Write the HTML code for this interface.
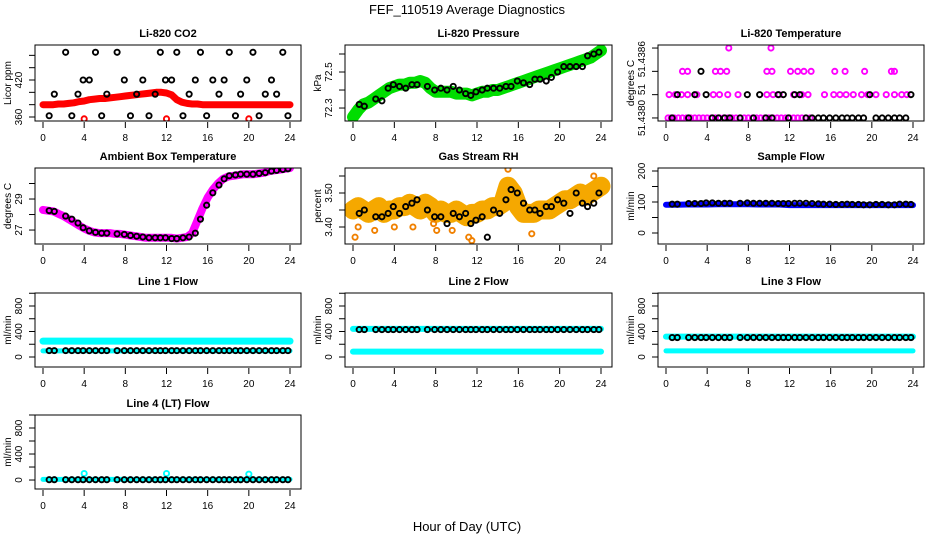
<!DOCTYPE html>
<html><head><meta charset="utf-8">
<style>
html,body{margin:0;padding:0;background:#fff;}
svg text{font-family:"Liberation Sans",sans-serif;}
</style></head>
<body>
<svg id="chart" width="936" height="540" viewBox="0 0 936 540" xmlns="http://www.w3.org/2000/svg">
<text x="467" y="14" text-anchor="middle" font-size="13">FEF_110519  Average Diagnostics</text>
<text x="467" y="531" text-anchor="middle" font-size="13">Hour of Day (UTC)</text>
</svg>
<script>
// ---- data ----
const xTicks = [0,4,8,12,16,20,24];
const blackTimes = [0.6,1.1,2.2,2.8,3.4,3.9,4.5,5.1,5.7,6.2,7.2,7.9,8.5,9.1,9.7,10.3,10.9,11.4,11.9,12.5,13.0,13.6,14.2,14.8,15.3,15.9,16.5,17.1,17.6,18.1,18.7,19.2,19.8,20.4,21.0,21.6,22.2,22.7,23.3,23.8];

const co2Band = [380,380,380,381,381,382,383,385,386,388,389,390,390,391,392,393,394,395,396,397,398,399,400,400,399,396,388,384,382,381,381,380,380,380,380,380,380,380,380,380,380,380,380,380,380,380,380,380,380];
const co2Black = [362,397,465,362,397,420,420,465,362,397,465,420,362,397,420,362,397,465,420,420,465,362,397,420,465,362,420,397,420,465,362,397,420,465,362,397,420,397,465,362];
const co2RedTimes = [4,12,20];
const co2RedVals = [357,357,357];

const pressBand = [72.25,72.29,72.32,72.33,72.35,72.37,72.39,72.41,72.42,72.43,72.43,72.44,72.44,72.45,72.44,72.41,72.39,72.39,72.39,72.39,72.38,72.38,72.38,72.37,72.38,72.39,72.39,72.40,72.40,72.41,72.42,72.43,72.44,72.45,72.46,72.47,72.48,72.49,72.50,72.51,72.52,72.53,72.54,72.55,72.56,72.57,72.58,72.60,72.62];
const pressBlack = [72.32,72.31,72.35,72.34,72.41,72.43,72.42,72.41,72.43,72.43,72.42,72.40,72.41,72.40,72.42,72.40,72.38,72.37,72.39,72.40,72.41,72.41,72.41,72.42,72.42,72.45,72.44,72.43,72.46,72.46,72.45,72.47,72.50,72.53,72.53,72.53,72.53,72.59,72.60,72.61];

const ltLevels = [51.43800,51.43823,51.43846,51.43869];
const ltMagTimes = [0.2,0.5,0.8,1.2,1.6,2.0,2.4,2.8,3.2,3.6,4.0,4.4,4.8,5.2,5.6,6.0,6.4,6.8,7.2,7.6,8.0,8.4,8.8,9.2,9.6,10.0,10.4,10.8,11.2,11.6,12.0,12.4,12.8,13.2,13.6,14.0,0.3,0.9,1.5,2.1,3.0,4.6,5.2,6.0,7.0,9.8,10.4,11.0,12.4,13.2,13.8,15.4,16.3,16.9,17.5,18.2,19.0,19.6,20.4,21.4,22.2,22.9,23.4,1.6,2.1,4.8,5.3,5.9,9.8,10.3,12.1,12.8,13.4,14.1,16.4,17.4,19.3,21.9,22.2,6.1,10.2];
const ltMagVals = [0,0,0,0,0,0,0,0,0,0,0,0,0,0,0,0,0,0,0,0,0,0,0,0,0,0,0,0,0,0,0,0,0,0,0,0,1,1,1,1,1,1,1,1,1,1,1,1,1,1,1,1,1,1,1,1,1,1,1,1,1,1,1,2,2,2,2,2,2,2,2,2,2,2,2,2,2,2,2,3,3];
const ltBlack = [0,1,0,1,2,1,0,0,0,0,0,1,0,1,0,0,1,1,0,1,1,0,0,0,0,0,0,0,0,0,0,0,1,0,0,0,0,0,0,1];

const ambBand = [28.3,28.25,28.2,28.05,27.9,27.7,27.5,27.3,27.1,26.95,26.85,26.8,26.8,26.8,26.75,26.75,26.7,26.65,26.6,26.55,26.5,26.5,26.5,26.5,26.5,26.5,26.45,26.5,26.55,26.8,27.6,28.4,29.1,29.6,30.0,30.3,30.45,30.5,30.55,30.6,30.6,30.6,30.65,30.7,30.8,30.85,30.9,30.95,31.0];
const ambBlack = [28.25,28.2,27.9,27.7,27.45,27.15,26.95,26.85,26.8,26.8,26.75,26.72,26.65,26.6,26.55,26.5,26.5,26.5,26.5,26.45,26.45,26.5,26.55,26.8,27.7,28.6,29.4,29.9,30.3,30.5,30.55,30.6,30.6,30.6,30.65,30.7,30.8,30.85,30.9,30.95];

const rhBand = [3.45,3.46,3.45,3.44,3.45,3.46,3.44,3.45,3.45,3.46,3.46,3.47,3.46,3.45,3.47,3.46,3.44,3.45,3.44,3.44,3.45,3.44,3.43,3.44,3.44,3.45,3.45,3.46,3.46,3.47,3.52,3.50,3.46,3.44,3.44,3.44,3.45,3.45,3.45,3.46,3.47,3.48,3.48,3.49,3.50,3.49,3.50,3.51,3.52];
const rhBlack = [3.44,3.45,3.43,3.43,3.44,3.46,3.44,3.46,3.47,3.48,3.45,3.43,3.43,3.41,3.44,3.43,3.44,3.41,3.42,3.43,3.37,3.45,3.44,3.48,3.51,3.50,3.47,3.45,3.45,3.44,3.46,3.46,3.48,3.47,3.44,3.50,3.47,3.46,3.47,3.50];
const rhStrayTimes = [0.2,0.5,2.1,4.0,5.8,7.8,8.1,9.6,11.2,11.5,15.0,17.3,23.3];
const rhStrayVals = [3.37,3.40,3.39,3.40,3.40,3.41,3.39,3.39,3.37,3.36,3.57,3.38,3.55];

const sampBand = [91,91,92,92,92,93,93,93,93,92,92,92,90,90,90,90,90,90,90,90,90,90,90,90,90];
const sampBlack = [93,93,95,95,95,97,97,96,96,96,96,97,96,96,96,96,95,95,95,96,96,96,95,94,93,93,92,92,93,92,92,91,91,92,92,91,91,93,93,92];

const l1Cyan = [250,250,250,250,250,250,250,250,250,250,250,250,250];
const l1Low = [95,95,95,95,95,95,95,95,95,95,95,95,95];
const l1Black = 100;
const l2Cyan = [440,440,440,440,440,440,440,440,440,440,440,440,440];
const l2Low = [85,85,85,85,85,85,85,85,85,85,85,85,85];
const l2Black = 430;
const l3Cyan = [320,320,320,320,320,320,320,320,320,320,320,320,320];
const l3Low = [95,95,95,95,95,95,95,95,95,95,95,95,95];
const l3Black = 305;
const l4Cyan = [10,10,10,10,10,10,10,10,10,10,10,10,10];
const l4SpikeTimes = [4,12,20];
const l4SpikeVals = [100,100,90];
const l4Black = 5;

// ---- drawing ----
const svg = document.getElementById('chart');
const NS = 'http://www.w3.org/2000/svg';
function mk(tag, attrs, parent){
  const e = document.createElementNS(NS, tag);
  for (const k in attrs) e.setAttribute(k, attrs[k]);
  (parent||svg).appendChild(e);
  return e;
}
const cols = [[35,301],[345,612],[658,924]];
const rows = [[45,121],[168,244],[293,367],[415,489]];

function panel(cfg){
  const [x1,x2] = cols[cfg.c], [y1,y2] = rows[cfg.r];
  const g = mk('g', {});
  
  
  const xs = t => x1 + 8 + t*(x2-x1-19)/24;
  const ys = v => y2 - (v-cfg.ymin)/(cfg.ymax-cfg.ymin)*(y2-y1);
  const clipId = 'clip'+cfg.name;
  const cp = mk('clipPath', {id:clipId}, g);
  mk('rect', {x:x1, y:y1, width:x2-x1, height:y2-y1}, cp);
  const t = mk('text', {x:(x1+x2)/2, y:y1-8, 'text-anchor':'middle', 'font-size':11, 'font-weight':'bold'}, g);
  t.textContent = cfg.title;
  
  
  const plot = mk('g', {'clip-path':'url(#'+clipId+')'}, g);
  cfg.draw(plot, xs, ys);
  const box = mk('rect', {x:x1, y:y1, width:x2-x1, height:y2-y1, fill:'none', stroke:'#000', 'stroke-width':1}, g);
  
  
  xTicks.forEach(v => {
    const x = xs(v);
    mk('line', {x1:x, x2:x, y1:y2+1, y2:y2+7, stroke:'#000'}, g);
    const l = mk('text', {x:x, y:y2+20, 'text-anchor':'middle', 'font-size':10}, g);
    l.textContent = v;
    
    
  });
  cfg.yticks.forEach(v => {
    const y = ys(v);
    mk('line', {x1:x1-6, x2:x1, y1:y, y2:y, stroke:'#000'}, g);
  });
  cfg.ylabels.forEach((lab, i) => {
    const y = ys(cfg.ylabelVals[i]);
    const l = mk('text', {x:x1-13, y:y, 'text-anchor':'middle', 'font-size':10, transform:'rotate(-90 '+(x1-13)+' '+y+')'}, g);
    l.textContent = lab;
    
    
  });
  const yt = mk('text', {x:x1-24, y:(y1+y2)/2, 'text-anchor':'middle', 'font-size':10, transform:'rotate(-90 '+(x1-24)+' '+((y1+y2)/2)+')'}, g);
  yt.textContent = cfg.ytitle;
  
  
}
function band(p, xs, ys, vals, color, w, name){
  const n = vals.length;
  const pts = vals.map((v,i) => xs(i*24/(n-1)).toFixed(1)+','+ys(v).toFixed(1)).join(' ');
  const pl = mk('polyline', {points:pts, fill:'none', stroke:color, 'stroke-width':w, 'stroke-linejoin':'round', 'stroke-linecap':'round'}, p);
  
  
}
function dots(p, xs, ys, times, vals, color, name, r){
  times.forEach((tt,i) => {
    const v = Array.isArray(vals) ? vals[i] : vals;
    const c = mk('circle', {cx:xs(tt), cy:ys(v), r:r||2.6, fill:'none', stroke:color, 'stroke-width':1.9}, p);
    
    
  });
}

panel({name:'co2-panel', title:'Li-820 CO2', c:0, r:0, ymin:353.5, ymax:476.8, ytitle:'Licor ppm',
  yticks:[360,380,400,420,440,460], ylabels:['360','420'], ylabelVals:[360,420],
  draw:(p,xs,ys)=>{ band(p,xs,ys,co2Band,'#ff0000',7,'co2-band');
    dots(p,xs,ys,co2RedTimes,co2RedVals,'#ff0000','co2-red-point');
    dots(p,xs,ys,blackTimes,co2Black,'#000','co2-point'); }});
panel({name:'pressure-panel', title:'Li-820 Pressure', c:1, r:0, ymin:72.228, ymax:72.65, ytitle:'kPa',
  yticks:[72.3,72.4,72.5,72.6], ylabels:['72.3','72.5'], ylabelVals:[72.3,72.5],
  draw:(p,xs,ys)=>{ band(p,xs,ys,pressBand,'#00dd00',12,'pressure-band');
    dots(p,xs,ys,blackTimes,pressBlack,'#000','pressure-point'); }});
panel({name:'li820-temp-panel', title:'Li-820 Temperature', c:2, r:0, ymin:51.43797, ymax:51.43872, ytitle:'degrees C',
  yticks:[51.4380,51.43823,51.43846,51.43869], ylabels:['51.4380','51','51.4386'], ylabelVals:[51.4380,51.43828,51.43858],
  draw:(p,xs,ys)=>{ dots(p,xs,ys,ltMagTimes,ltMagVals.map(i=>ltLevels[i]),'#ff00ff','temp-magenta-point');
    dots(p,xs,ys,blackTimes,ltBlack.map(i=>ltLevels[i]),'#000','temp-point'); }});
panel({name:'ambient-temp-panel', title:'Ambient Box Temperature', c:0, r:1, ymin:26.1, ymax:31.0, ytitle:'degrees C',
  yticks:[27,28,29,30], ylabels:['27','29'], ylabelVals:[27,29],
  draw:(p,xs,ys)=>{ band(p,xs,ys,ambBand,'#ff00ff',8,'ambient-band');
    dots(p,xs,ys,blackTimes,ambBlack,'#000','ambient-point'); }});
panel({name:'rh-panel', title:'Gas Stream RH', c:1, r:1, ymin:3.35, ymax:3.5735, ytitle:'percent',
  yticks:[3.40,3.45,3.50,3.55], ylabels:['3.40','3.50'], ylabelVals:[3.40,3.50],
  draw:(p,xs,ys)=>{ band(p,xs,ys,rhBand,'#f5a800',19,'rh-band');
    dots(p,xs,ys,rhStrayTimes,rhStrayVals,'#f08000','rh-stray-point');
    dots(p,xs,ys,blackTimes,rhBlack,'#000','rh-point'); }});
panel({name:'sample-flow-panel', title:'Sample Flow', c:2, r:1, ymin:-35.5, ymax:209.7, ytitle:'ml/min',
  yticks:[0,50,100,150,200], ylabels:['0','100','200'], ylabelVals:[0,100,200],
  draw:(p,xs,ys)=>{ band(p,xs,ys,sampBand,'#0000ff',6,'sample-band');
    dots(p,xs,ys,blackTimes,sampBlack,'#000','sample-point'); }});
const flowTicks = [0,200,400,600,800,1000];
panel({name:'line1-panel', title:'Line 1 Flow', c:0, r:2, ymin:-157, ymax:1004, ytitle:'ml/min',
  yticks:flowTicks, ylabels:['0','400','800'], ylabelVals:[0,400,800],
  draw:(p,xs,ys)=>{ band(p,xs,ys,l1Cyan,'#00ffff',7,'line1-band'); band(p,xs,ys,l1Low,'#00ffff',5,'line1-low-band');
    dots(p,xs,ys,blackTimes,l1Black,'#000','line1-point'); }});
panel({name:'line2-panel', title:'Line 2 Flow', c:1, r:2, ymin:-157, ymax:1004, ytitle:'ml/min',
  yticks:flowTicks, ylabels:['0','400','800'], ylabelVals:[0,400,800],
  draw:(p,xs,ys)=>{ band(p,xs,ys,l2Cyan,'#00ffff',6,'line2-band'); band(p,xs,ys,l2Low,'#00ffff',6,'line2-low-band');
    dots(p,xs,ys,blackTimes,l2Black,'#000','line2-point'); }});
panel({name:'line3-panel', title:'Line 3 Flow', c:2, r:2, ymin:-157, ymax:1004, ytitle:'ml/min',
  yticks:flowTicks, ylabels:['0','400','800'], ylabelVals:[0,400,800],
  draw:(p,xs,ys)=>{ band(p,xs,ys,l3Cyan,'#00ffff',6,'line3-band'); band(p,xs,ys,l3Low,'#00ffff',5,'line3-low-band');
    dots(p,xs,ys,blackTimes,l3Black,'#000','line3-point'); }});
panel({name:'line4-panel', title:'Line 4 (LT) Flow', c:0, r:3, ymin:-138, ymax:1000, ytitle:'ml/min',
  yticks:flowTicks, ylabels:['0','400','800'], ylabelVals:[0,400,800],
  draw:(p,xs,ys)=>{ band(p,xs,ys,l4Cyan,'#00ffff',5,'line4-band');
    dots(p,xs,ys,l4SpikeTimes,l4SpikeVals,'#00ffff','line4-spike-point');
    dots(p,xs,ys,blackTimes,l4Black,'#000','line4-point'); }});
</script>
</body></html>
